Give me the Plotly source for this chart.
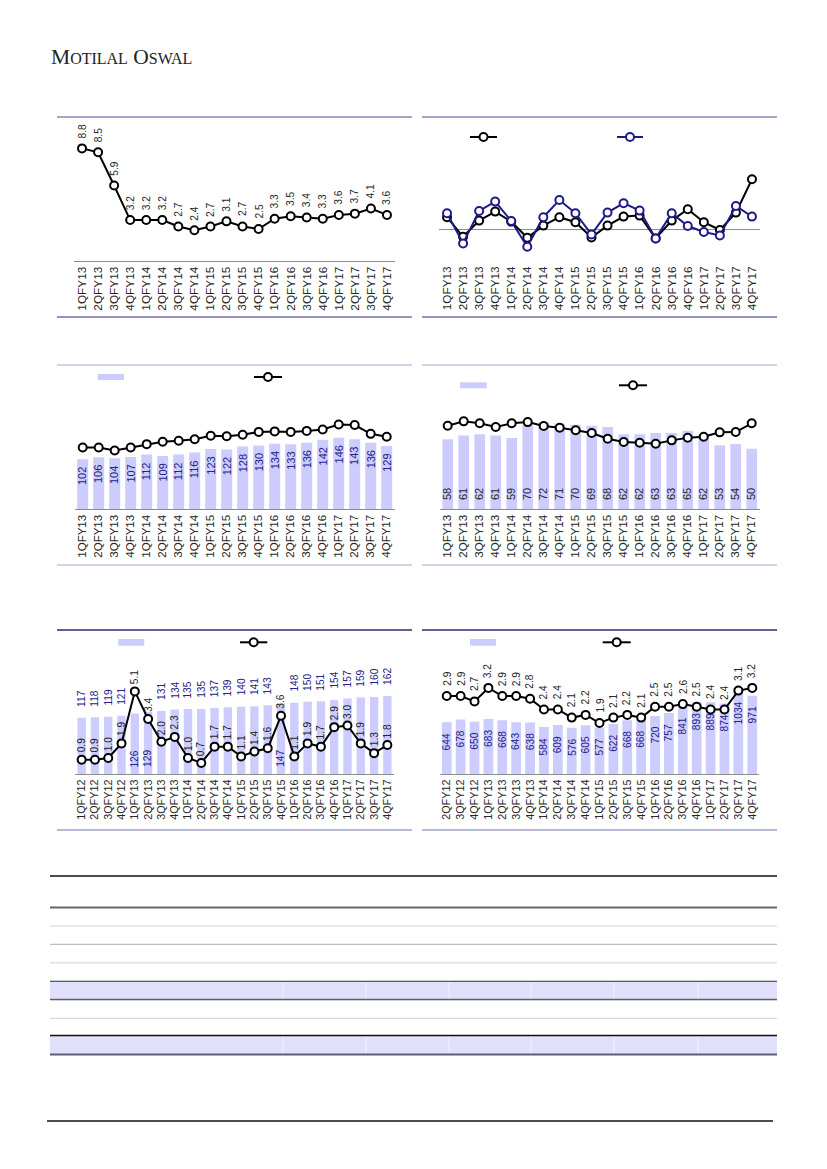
import plotly.graph_objects as go

W, H = 827, 1169
OFF = 8  # page body margin of the rendered html


def fx(x):
    return (x - OFF) / W


def fy(y):
    return 1 - (y - OFF) / H


# ---------------- DATA ----------------
q_fy13_17 = ["1QFY13", "2QFY13", "3QFY13", "4QFY13", "1QFY14", "2QFY14", "3QFY14", "4QFY14",
             "1QFY15", "2QFY15", "3QFY15", "4QFY15", "1QFY16", "2QFY16", "3QFY16", "4QFY16",
             "1QFY17", "2QFY17", "3QFY17", "4QFY17"]
q_fy12_17 = ["1QFY12", "2QFY12", "3QFY12", "4QFY12"] + q_fy13_17
q_2fy12_17 = ["2QFY12", "3QFY12", "4QFY12"] + q_fy13_17

p1_line = [8.8, 8.5, 5.9, 3.2, 3.2, 3.2, 2.7, 2.4, 2.7, 3.1, 2.7, 2.5, 3.3, 3.5, 3.4, 3.3, 3.6, 3.7, 4.1, 3.6]

p2_black = [5.9, -3.9, 4.2, 8.7, 3.7, -4.4, 1.7, 5.9, 3.4, -4.2, 1.7, 6.2, 6.7, -4.7, 4.2, 9.9, 3.4, -0.5, 8.2, 24.9]
p2_navy = [7.9, -7.2, 9.0, 13.7, 4.0, -8.9, 5.9, 14.5, 7.9, -2.7, 8.2, 12.9, 9.2, -4.7, 7.9, 1.5, -1.5, -3.2, 11.5, 6.2]

p3_bars = [102, 106, 104, 107, 112, 109, 112, 116, 123, 122, 128, 130, 134, 133, 136, 142, 146, 143, 136, 129]
p3_line = [126, 126, 120, 126, 133, 138, 140, 143, 150, 149, 152, 158, 159, 158, 160, 163, 173, 172, 154, 148]

p4_bars = [58, 61, 62, 61, 59, 70, 72, 71, 70, 69, 68, 62, 62, 63, 63, 65, 62, 53, 54, 50]
p4_line = [69.1, 72.7, 71.1, 68.0, 71.1, 72.1, 68.8, 67.4, 65.3, 63.1, 58.3, 55.6, 55.0, 54.2, 57.0,
           59.2, 60.0, 63.6, 63.9, 71.1]

p5_bars = [117, 118, 119, 121, 126, 129, 131, 134, 135, 135, 137, 139, 140, 141, 143, 147, 148, 150,
           151, 154, 157, 159, 160, 162]
p5_line = [0.9, 0.9, 1.0, 1.9, 5.1, 3.4, 2.0, 2.3, 1.0, 0.7, 1.7, 1.7, 1.1, 1.4, 1.6, 3.6, 1.1, 1.9,
           1.7, 2.9, 3.0, 1.9, 1.3, 1.8]
p5_inside_labels = ["1QFY13", "2QFY13", "4QFY15"]

p6_bars = [644, 678, 650, 683, 668, 643, 638, 584, 609, 576, 605, 577, 622, 668, 668, 720, 757, 841,
           893, 889, 874, 1034, 971]
p6_line = [2.9, 2.9, 2.7, 3.2, 2.9, 2.9, 2.8, 2.4, 2.4, 2.1, 2.2, 1.9, 2.1, 2.2, 2.1, 2.5, 2.5, 2.6,
           2.5, 2.4, 2.4, 3.1, 3.2]

# ---------------- STYLE ----------------
NAVY = "#1f1a8a"
BAR = "#ccccff"
LBL_NAVY = "#22228a"
TXT = "#262626"
FONT = "Liberation Sans, Arial, sans-serif"

fig = go.Figure()

line_style = dict(color="black", width=2)
mk_style = dict(symbol="circle", size=8, color="white", line=dict(color="black", width=2))
navy_mk = dict(symbol="circle", size=8, color="white", line=dict(color=NAVY, width=2))

# Panel 1
fig.add_trace(go.Scatter(x=q_fy13_17, y=p1_line, mode="lines+markers", line=line_style,
                         marker=mk_style, xaxis="x", yaxis="y", showlegend=False, cliponaxis=False))
# Panel 2
fig.add_trace(go.Scatter(x=q_fy13_17, y=p2_black, mode="lines+markers", line=line_style,
                         marker=mk_style, xaxis="x2", yaxis="y2", showlegend=False, cliponaxis=False))
fig.add_trace(go.Scatter(x=q_fy13_17, y=p2_navy, mode="lines+markers", line=dict(color=NAVY, width=2),
                         marker=navy_mk, xaxis="x2", yaxis="y2", showlegend=False, cliponaxis=False))
# Panel 3
fig.add_trace(go.Bar(x=q_fy13_17, y=p3_bars, marker=dict(color=BAR, line=dict(width=0)), width=0.69,
                     xaxis="x3", yaxis="y3", showlegend=False))
fig.add_trace(go.Scatter(x=q_fy13_17, y=p3_line, mode="lines+markers", line=line_style,
                         marker=mk_style, xaxis="x3", yaxis="y3", showlegend=False, cliponaxis=False))
# Panel 4
fig.add_trace(go.Bar(x=q_fy13_17, y=p4_bars, marker=dict(color=BAR, line=dict(width=0)), width=0.67,
                     xaxis="x4", yaxis="y4", showlegend=False))
fig.add_trace(go.Scatter(x=q_fy13_17, y=p4_line, mode="lines+markers", line=line_style,
                         marker=mk_style, xaxis="x4", yaxis="y4", showlegend=False, cliponaxis=False))
# Panel 5
fig.add_trace(go.Bar(x=q_fy12_17, y=p5_bars, marker=dict(color=BAR, line=dict(width=0)), width=0.63,
                     xaxis="x5", yaxis="y5", showlegend=False))
fig.add_trace(go.Scatter(x=q_fy12_17, y=p5_line, mode="lines+markers", line=line_style,
                         marker=mk_style, xaxis="x5", yaxis="y7", showlegend=False, cliponaxis=False))
# Panel 6
fig.add_trace(go.Bar(x=q_2fy12_17, y=p6_bars, marker=dict(color=BAR, line=dict(width=0)), width=0.7,
                     xaxis="x6", yaxis="y6", showlegend=False))
fig.add_trace(go.Scatter(x=q_2fy12_17, y=p6_line, mode="lines+markers", line=line_style,
                         marker=mk_style, xaxis="x6", yaxis="y8", showlegend=False, cliponaxis=False))

# ---------------- AXES ----------------
def xax(domain, cats, size, showline=True):
    return dict(domain=[fx(domain[0]), fx(domain[1])], type="category", categoryorder="array",
                categoryarray=cats, range=[-0.5, len(cats) - 0.5], tickangle=-90, ticks="",
                showgrid=False, zeroline=False, showline=showline, linecolor="#8c8c8c", linewidth=1,
                tickfont=dict(family=FONT, size=size, color=TXT), fixedrange=True)


def yax(bottom, top, rng, zeroline=False):
    return dict(domain=[fy(bottom), fy(top)], range=rng, showgrid=False, zeroline=zeroline,
                zerolinecolor="#8c8c8c", zerolinewidth=1, showticklabels=False, ticks="",
                showline=False, fixedrange=True)


fig.update_layout(
    xaxis=dict(xax((74, 395), q_fy13_17, 11.8), anchor="y"),
    yaxis=dict(yax(261, 120, [0, 11.02]), anchor="x"),
    xaxis2=dict(xax((439, 760), q_fy13_17, 11.8, showline=False), anchor="y2"),
    yaxis2=dict(yax(263, 150, [-17, 39.5], zeroline=True), anchor="x2"),
    xaxis3=dict(xax((74.7, 394.7), q_fy13_17, 11.5), anchor="y3"),
    yaxis3=dict(yax(509.3, 390, [0, 243.5]), anchor="x3"),
    xaxis4=dict(xax((439.7, 759.7), q_fy13_17, 11.5), anchor="y4"),
    yaxis4=dict(yax(509.3, 395, [0, 94.5]), anchor="x4"),
    xaxis5=dict(xax((75, 394), q_fy12_17, 10.8), anchor="y5"),
    yaxis5=dict(yax(774.3, 650, [0, 257.3]), anchor="x5"),
    xaxis6=dict(xax((439.8, 759.2), q_2fy12_17, 10.8), anchor="y6"),
    yaxis6=dict(yax(774.3, 650, [0, 1534.6]), anchor="x6"),
    yaxis7=dict(yax(774.3, 650, [0, 7.645]), anchor="x5", overlaying="y5"),
    yaxis8=dict(yax(774.3, 650, [0, 4.604]), anchor="x6", overlaying="y6"),
)

# ---------------- DATA LABELS ----------------
ann = []


def lab(x, y, text, xref, yref, anchor, shift, size, color):
    ann.append(dict(x=x, y=y, xref=xref, yref=yref, text=text, showarrow=False, textangle=-90,
                    xanchor="center", yanchor=anchor, yshift=shift,
                    font=dict(family=FONT, size=size, color=color)))


for c, v in zip(q_fy13_17, p1_line):
    lab(c, v, f"{v:.1f}", "x", "y", "bottom", 8, 10.2, TXT)
for c, v in zip(q_fy13_17, p3_bars):
    lab(c, v, str(v), "x3", "y3", "top", -6, 11, LBL_NAVY)
for c, v in zip(q_fy13_17, p4_bars):
    lab(c, 0, str(v), "x4", "y4", "bottom", 7, 11, TXT)
for c, v in zip(q_fy12_17, p5_bars):
    if c in p5_inside_labels:
        lab(c, 0, str(v), "x5", "y5", "bottom", 5, 10.2, LBL_NAVY)
    else:
        lab(c, v, str(v), "x5", "y5", "bottom", 9, 10.2, LBL_NAVY)
for c, v in zip(q_fy12_17, p5_line):
    lab(c, v, f"{v:.1f}", "x5", "y7", "bottom", 5, 10.2, TXT)
for c, v in zip(q_2fy12_17, p6_bars):
    lab(c, v, str(v), "x6", "y6", "top", -9, 10.2, LBL_NAVY)
for c, v in zip(q_2fy12_17, p6_line):
    lab(c, v, f"{v:.1f}", "x6", "y8", "bottom", 8, 10.2, TXT)

# Logo
ann.append(dict(x=fx(49), y=fy(57), xref="paper", yref="paper", xanchor="left", yanchor="middle",
                showarrow=False,
                text="M<span style='font-size:16px'>OTILAL</span> O<span style='font-size:16px'>SWAL</span>",
                font=dict(family="Liberation Serif, Times New Roman, serif", size=21.5, color="#222222")))

fig.update_layout(annotations=ann)

# ---------------- SHAPES (rules, legend keys, table) ----------------
shapes = []


def hline(x0, x1, y, color, width=1):
    shapes.append(dict(type="line", xref="paper", yref="paper", x0=fx(x0), x1=fx(x1), y0=fy(y), y1=fy(y),
                       line=dict(color=color, width=width)))


def rect(x0, x1, y0, y1, color):
    shapes.append(dict(type="rect", xref="paper", yref="paper", x0=fx(x0), x1=fx(x1), y0=fy(y0), y1=fy(y1),
                       fillcolor=color, line=dict(width=0), layer="below"))


def circle(cx, cy, r, color):
    shapes.append(dict(type="circle", xref="paper", yref="paper", x0=fx(cx - r), x1=fx(cx + r),
                       y0=fy(cy + r), y1=fy(cy - r), fillcolor="white", line=dict(color=color, width=2)))


def line_key(x0, x1, y, color):
    hline(x0, x1, y, color, 2)
    circle((x0 + x1) / 2, y, 4, color)


# section rules
for a, b in ((57, 412), (422, 777)):
    hline(a, b, 117, "#4a4a9a", 1)
    hline(a, b, 317, "#2a2a8a", 1.2)
    hline(a, b, 365, "#c4c4e4", 1.5)
    hline(a, b, 565, "#c4c4e4", 1.5)
    hline(a, b, 630, "#2a2a7e", 1.5)
    hline(a, b, 830, "#7070b0", 1.2)

# legend keys
line_key(470, 497, 137, "black")
line_key(617, 643, 137, NAVY)
rect(97.7, 124, 374, 380, BAR)
line_key(254, 282, 377, "black")
rect(460, 486.7, 382.3, 388.3, BAR)
line_key(619, 647, 385.3, "black")
rect(118.3, 144.3, 639, 645.7, BAR)
line_key(240, 267.3, 642.3, "black")
rect(470, 496, 639, 645.7, BAR)
line_key(602.7, 630.7, 642.3, "black")

# table
TL, TR = 50, 777
PURPLE = "#e0e0fb"
rect(TL, TR, 981, 999, PURPLE)
rect(TL, TR, 1036, 1054, PURPLE)
for xc in (283, 366, 449, 531, 614, 698):
    shapes.append(dict(type="line", xref="paper", yref="paper", x0=fx(xc), x1=fx(xc), y0=fy(981), y1=fy(999),
                       line=dict(color="#f2f2ff", width=1)))
    shapes.append(dict(type="line", xref="paper", yref="paper", x0=fx(xc), x1=fx(xc), y0=fy(1036), y1=fy(1054),
                       line=dict(color="#f2f2ff", width=1)))
hline(TL, TR, 876, "#111111", 1.5)
hline(TL, TR, 907.5, "#666666", 2)
hline(TL, TR, 926, "#e4e4e4", 1.5)
hline(TL, TR, 944.3, "#bdbdbd", 1.2)
hline(TL, TR, 962.7, "#e6e6e6", 2)
hline(TL, TR, 980.5, "#c8c8c8", 1)
hline(TL, TR, 981.5, "#5c5c78", 1.2)
hline(TL, TR, 999.3, "#5c5c78", 1.2)
hline(TL, TR, 1000.5, "#d0d0d0", 1)
hline(TL, TR, 1018.3, "#dcdcdc", 1.2)
hline(TL, TR, 1035.5, "#111111", 1.5)
hline(TL, TR, 1054.5, "#5c5c78", 2)

# footer rule
hline(47, 773, 1121, "#111111", 1.5)

fig.update_layout(shapes=shapes)

fig.update_layout(width=W, height=H, margin=dict(l=0, r=0, t=0, b=0), paper_bgcolor="white",
                  plot_bgcolor="white", showlegend=False, font=dict(family=FONT))

fig.write_html("out.html")
